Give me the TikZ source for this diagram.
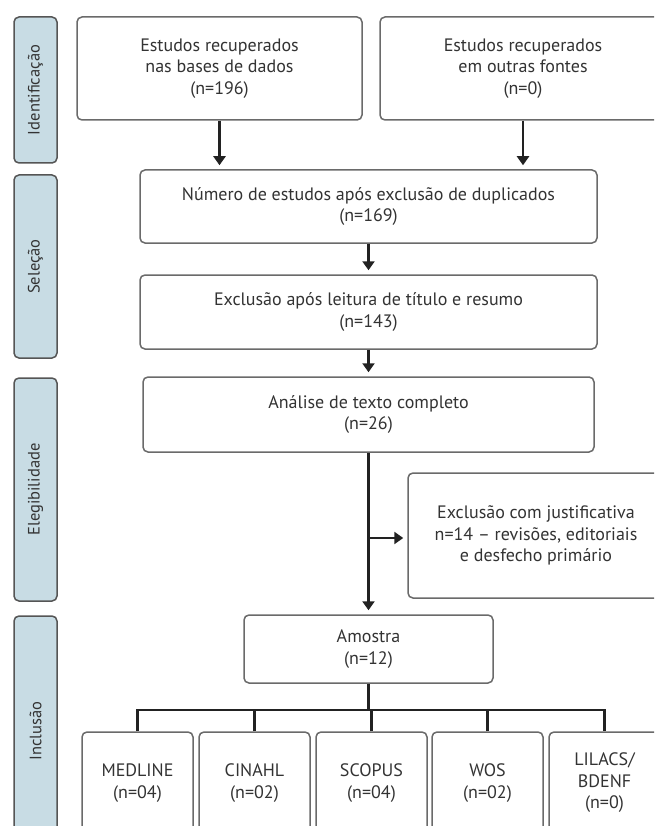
\documentclass[tikz,border=0pt]{standalone}
\usepackage{fontspec}
\setmainfont{PT Sans}
\usetikzlibrary{arrows.meta}
\definecolor{txt}{HTML}{333333}
\definecolor{bord}{HTML}{6A6A6A}
\definecolor{phasefill}{HTML}{C8DCE4}
\definecolor{ln}{HTML}{222222}
\begin{document}
\begin{tikzpicture}[x=1pt,y=-1pt,
  box/.style={draw=bord, line width=1.5pt, rounded corners=5pt, fill=white, align=center, text=txt, font=\fontsize{18}{21.5}\selectfont, inner sep=0pt},
  phase/.style={draw=bord!80!black, line width=1.5pt, rounded corners=5pt, fill=phasefill, text=txt, font=\fontsize{16.5}{18}\selectfont, inner sep=0pt, minimum height=43pt, rotate=90},
  conn/.style={draw=ln, line width=2.2pt},
  arr/.style={conn, -{Triangle[width=12pt,length=9pt]}, shorten >=4pt}
]
\useasboundingbox (0,0) rectangle (654,826);
\clip (0,0) rectangle (654,826);
\fill[white] (0,0) rectangle (654,826);
% phases
\node[phase, minimum width=146pt] (pid) at (35.5,90) {Identificação};
\node[phase, minimum width=183pt] (psel) at (35.5,266.5) {Seleção};
\node[phase, minimum width=223pt] (pele) at (35.5,489.5) {Elegibilidade};
\node[phase, minimum width=230pt] (pinc) at (35.5,731) {Inclusão};
% boxes
\node[box, minimum width=285pt, minimum height=103pt] (b1) at (219.5,68.5) {Estudos recuperados\\nas bases de dados\\(n=196)};
\node[box, minimum width=286pt, minimum height=103pt] (b2) at (523,68.5) {Estudos recuperados\\em outras fontes\\(n=0)};
\node[box, minimum width=457pt, minimum height=73pt] (b3) at (368.5,206.5) {Número de estudos após exclusão de duplicados\\(n=169)};
\node[box, minimum width=457pt, minimum height=74pt] (b4) at (368.5,312) {Exclusão após leitura de título e resumo\\(n=143)};
\node[box, minimum width=451pt, minimum height=75pt] (b5) at (368.5,414.5) {Análise de texto completo\\(n=26)};
\node[box, minimum width=256pt, minimum height=125pt] (ex) at (536,535.5) {Exclusão com justificativa\\n=14 -- revisões, editoriais\\e desfecho primário};
\node[box, minimum width=249pt, minimum height=68pt] (am) at (368.5,649) {Amostra\\(n=12)};
\node[box, minimum width=111pt, minimum height=102pt] (c1) at (137.5,783) {MEDLINE\\(n=04)};
\node[box, minimum width=111pt, minimum height=102pt] (c2) at (254.5,783) {CINAHL\\(n=02)};
\node[box, minimum width=111pt, minimum height=102pt] (c3) at (371.5,783) {SCOPUS\\(n=04)};
\node[box, minimum width=111pt, minimum height=102pt] (c4) at (487.5,783) {WOS\\(n=02)};
\node[box, minimum width=111pt, minimum height=102pt] (c5) at (604.5,783) {LILACS/\\BDENF\\(n=0)};
% connectors
\draw[arr] (b1.south) -- (b1.south |- b3.north);
\draw[arr] (b2.south) -- (b2.south |- b3.north);
\draw[arr] (b3.south) -- (b4.north);
\draw[arr] (b4.south) -- (b5.north);
\draw[arr] (b5.south) -- (am.north);
\coordinate (br) at (368.5,538);
\draw[arr] (br) -- (br -| ex.west);
\coordinate (bar) at (368.5,710);
\draw[conn] (am.south) -- (bar);
\draw[conn] (c1.north) |- (c5.north |- bar) -- (c5.north);
\draw[conn] (c2.north) -- (c2.north |- bar);
\draw[conn] (c3.north) -- (c3.north |- bar);
\draw[conn] (c4.north) -- (c4.north |- bar);
\end{tikzpicture}
\end{document}
